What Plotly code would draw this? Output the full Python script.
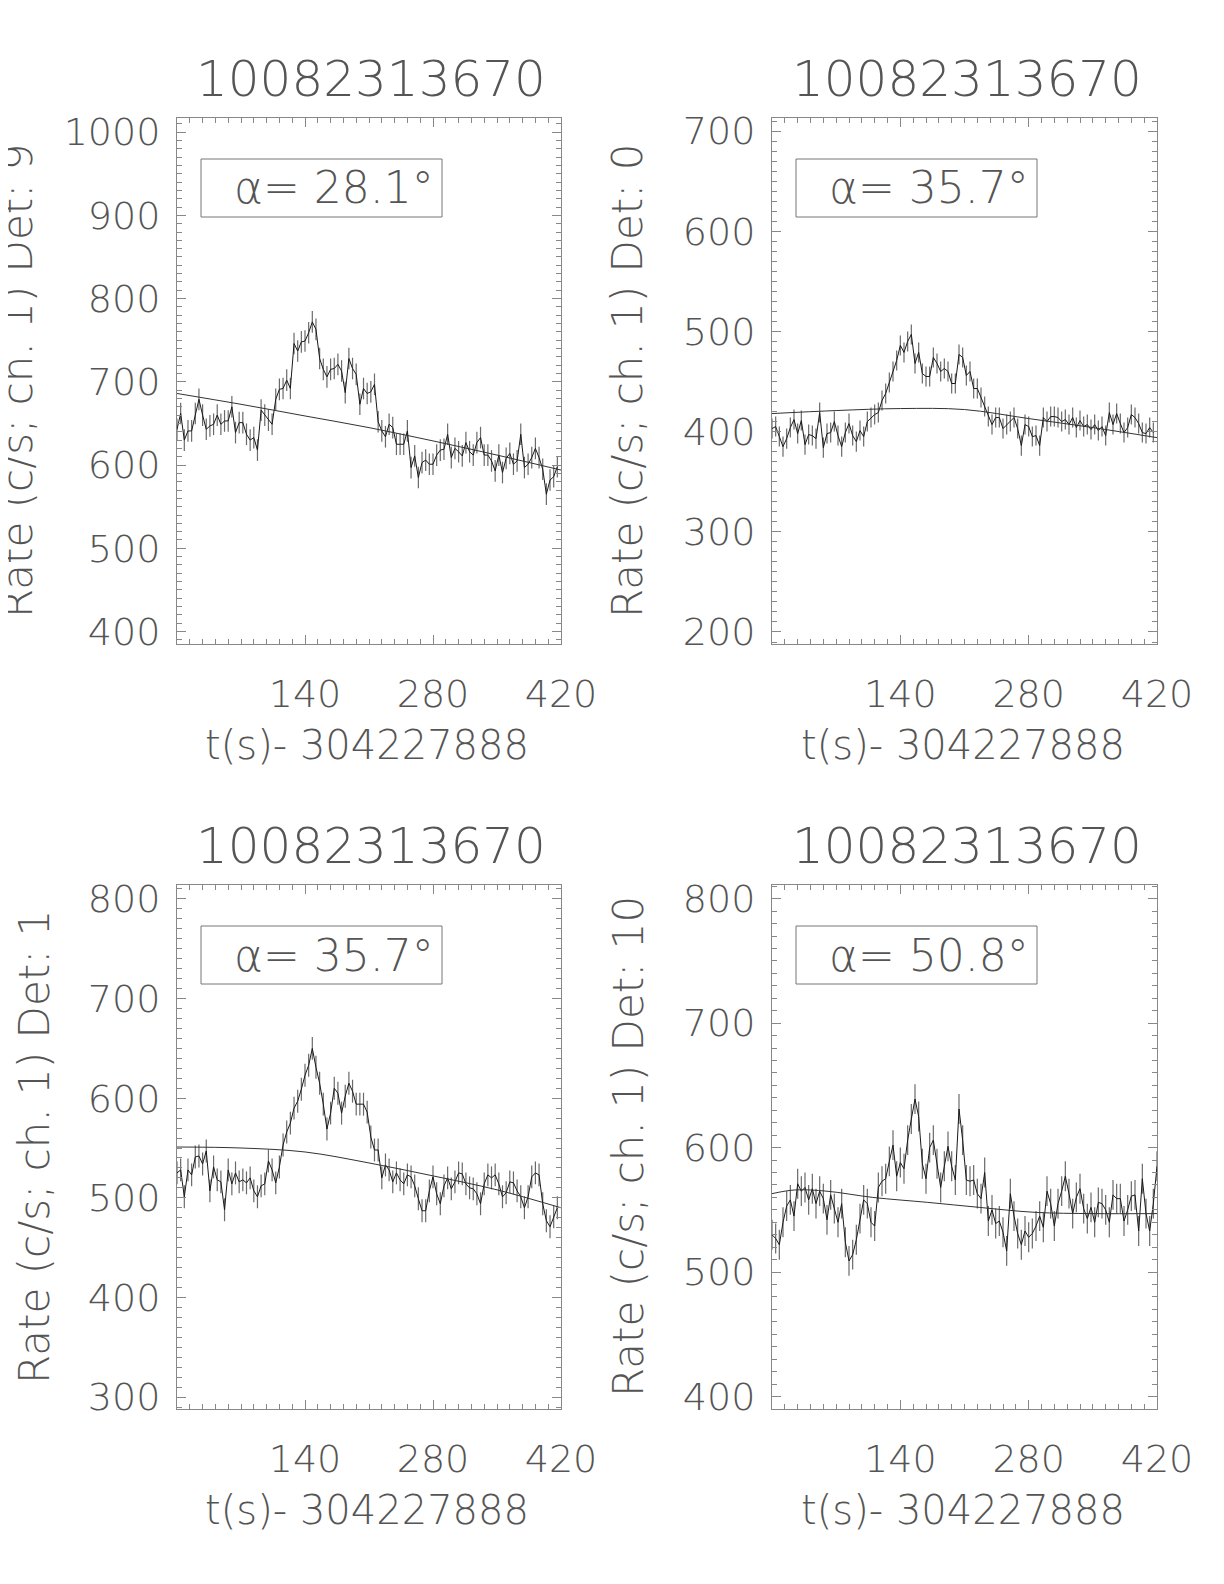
import plotly.graph_objects as go
from plotly.subplots import make_subplots

PAGE_OFF = 8          # default body margin of the html page
W, H = 1208, 1568     # figure size so that it fits the 1224x1584 window
FONT = "DejaVu Sans"
FW = 200              # thin strokes, if an extra-light face is installed
TXT = "#555555"
AXC = "#888888"

OBS_ID = "10082313670"
T0_LABEL = "t(s)- 304227888"
BIN = 4.0  # s

# Det 9 light curve (c/s), 4 s bins from t=0
RATE_DET9 = [
    643, 662, 630, 641, 641, 662, 679, 660, 643, 647,
    649, 660, 649, 653, 653, 670, 639, 651, 651, 637,
    630, 633, 618, 666, 660, 654, 649, 679, 691, 692,
    702, 692, 746, 737, 748, 749, 759, 772, 763, 728,
    715, 706, 715, 716, 721, 713, 687, 728, 716, 709,
    673, 692, 686, 688, 697, 652, 641, 634, 649, 645,
    625, 625, 625, 641, 597, 611, 585, 603, 606, 601,
    601, 612, 618, 619, 637, 609, 620, 616, 611, 627,
    616, 612, 627, 633, 612, 612, 605, 593, 612, 591,
    608, 614, 601, 605, 637, 597, 601, 609, 620, 609,
    595, 565, 582, 586, 598,
]
RATE_DET0 = [
    403, 405, 395, 385, 393, 404, 412, 398, 411, 387,
    397, 396, 393, 419, 384, 398, 399, 410, 396, 385,
    399, 408, 396, 390, 401, 395, 410, 414, 417, 419,
    431, 438, 449, 460, 471, 486, 479, 490, 497, 468,
    479, 458, 455, 455, 474, 468, 460, 463, 460, 448,
    448, 477, 474, 456, 460, 443, 443, 434, 425, 415,
    407, 414, 414, 403, 407, 410, 414, 403, 386, 407,
    405, 395, 396, 386, 414, 410, 415, 415, 414, 410,
    412, 407, 414, 404, 411, 405, 407, 402, 407, 401,
    405, 396, 419, 407, 418, 408, 399, 404, 417, 414,
    408, 399, 398, 404, 399,
]
RATE_DET1 = [
    525, 528, 501, 528, 523, 541, 542, 534, 547, 507,
    531, 518, 516, 488, 528, 514, 525, 516, 518, 515,
    520, 507, 501, 512, 514, 537, 528, 515, 531, 553,
    566, 575, 590, 597, 609, 623, 633, 650, 631, 615,
    594, 569, 585, 610, 605, 585, 602, 615, 607, 594,
    594, 594, 586, 561, 548, 548, 520, 533, 528, 516,
    525, 518, 514, 523, 521, 512, 499, 487, 487, 507,
    521, 504, 494, 512, 520, 509, 516, 525, 524, 514,
    510, 509, 504, 494, 514, 523, 520, 523, 514, 501,
    505, 516, 515, 507, 501, 490, 501, 521, 525, 523,
    494, 477, 471, 481, 490,
]
RATE_DET10 = [
    530, 527, 522, 540, 553, 558, 545, 571, 565, 568,
    558, 567, 555, 565, 559, 542, 562, 551, 540, 555,
    524, 509, 514, 526, 543, 558, 555, 540, 537, 568,
    573, 575, 589, 602, 577, 588, 583, 606, 623, 639,
    625, 587, 575, 600, 606, 587, 568, 585, 601, 585,
    574, 631, 606, 574, 573, 574, 563, 559, 580, 541,
    550, 539, 541, 532, 517, 563, 545, 531, 522, 533,
    528, 531, 537, 545, 536, 565, 555, 537, 555, 565,
    577, 563, 547, 560, 567, 551, 543, 552, 540, 556,
    555, 550, 540, 562, 559, 559, 541, 550, 561, 562,
    533, 575, 547, 533, 555, 585,
]

# typical 1-sigma error per bin (c/s)
ERR_DET9, ERR_DET0, ERR_DET1, ERR_DET10 = 13, 10, 11.5, 12

# fitted background, read at a few times
BKG_T = [0, 70, 140, 210, 280, 350, 420]
BKG_DET9 = [686, 673, 659, 645, 629, 612, 594]
BKG_DET0 = [418, 421, 423, 422, 413, 404, 394]
BKG_DET1 = [551, 550, 546, 535, 522, 508, 490]
BKG_T_DET10 = [0, 25, 60, 110, 170, 226, 287, 350, 420]
BKG_DET10 = [563, 566, 565, 560, 556, 552, 548, 547, 547]

ALPHA = ["28.1", "35.7", "35.7", "50.8"]
DETS = ["9", "0", "1", "10"]
YRANGES = [(385, 1017), (188, 713), (288, 814), (390, 811)]

panels = [
    (RATE_DET9, ERR_DET9, BKG_T, BKG_DET9),
    (RATE_DET0, ERR_DET0, BKG_T, BKG_DET0),
    (RATE_DET1, ERR_DET1, BKG_T, BKG_DET1),
    (RATE_DET10, ERR_DET10, BKG_T_DET10, BKG_DET10),
]

# panel frames in window pixels (left, right, top, bottom)
FRAMES = [
    (177, 561, 118, 644),
    (772, 1157, 118, 644),
    (177, 561, 885, 1409),
    (772, 1157, 885, 1409),
]
YTITLE_X = [18, 628, 34, 628]


def px(x):
    return (x - PAGE_OFF) / W


def py(y):
    return 1 - (y - PAGE_OFF) / H


def label(text, x, y, size, angle=0):
    fig.add_annotation(text=text, x=px(x), y=py(y), xref="paper", yref="paper",
                       xanchor="center", yanchor="middle", showarrow=False,
                       textangle=angle,
                       font=dict(family=FONT, size=size, color=TXT, weight=FW))


fig = make_subplots(rows=2, cols=2)

axis_common = dict(
    showline=True, linecolor=AXC, linewidth=1, mirror="allticks",
    ticks="inside", ticklen=9, tickcolor=AXC, tickwidth=1,
    showgrid=False, zeroline=False, automargin=False,
    tickfont=dict(family=FONT, size=38, color=TXT, weight=FW),
)

for i, (rate, err, bt, bv) in enumerate(panels):
    row, col = i // 2 + 1, i % 2 + 1
    t = [BIN * k for k in range(len(rate))]
    fig.add_trace(
        go.Scatter(
            x=t, y=rate, mode="lines",
            line=dict(color="#1a1a1a", width=1),
            error_y=dict(type="constant", value=err, color="#6a6a6a",
                         thickness=1.2, width=0),
            showlegend=False,
        ),
        row=row, col=col,
    )
    fig.add_trace(
        go.Scatter(
            x=bt, y=bv, mode="lines", line=dict(color="#333333", width=1, shape="spline"),
            showlegend=False,
        ),
        row=row, col=col,
    )

    left, right, top, bottom = FRAMES[i]
    fig.update_xaxes(
        range=[0, 420], tickvals=[0, 140, 280, 420], ticktext=["", "140", "280", "420"],
        minor=dict(ticks="inside", ticklen=5, tickcolor=AXC, tick0=0, dtick=14),
        ticklabelstandoff=16, domain=[px(left), px(right)],
        row=row, col=col, **axis_common,
    )
    fig.update_yaxes(
        range=list(YRANGES[i]), tick0=0, dtick=100,
        minor=dict(ticks="inside", ticklen=5, tickcolor=AXC, tick0=0, dtick=10),
        ticklabelstandoff=8, domain=[py(bottom), py(top)],
        row=row, col=col, **axis_common,
    )

    cx = (left + right) / 2
    cy = (top + bottom) / 2
    label(OBS_ID, cx + 2, top - 39, 50)
    label(T0_LABEL, cx - 2, bottom + 101, 40)
    label(f"Rate (c/s; ch. 1) Det: {DETS[i]}", YTITLE_X[i], cy, 42, -90)

    # alpha box
    bx0, bx1 = left + 24, left + 265
    by0, by1 = top + 41, top + 99
    fig.add_shape(type="rect", xref="paper", yref="paper",
                  x0=px(bx0), x1=px(bx1), y0=py(by1), y1=py(by0),
                  line=dict(color="#777777", width=1))
    label(f"α= {ALPHA[i]}°", (bx0 + bx1) / 2 + 12, (by0 + by1) / 2, 44)

fig.update_layout(
    width=W, height=H, margin=dict(l=0, r=0, t=0, b=0, autoexpand=False),
    paper_bgcolor="white", plot_bgcolor="white",
)

fig.write_html("out.html")
